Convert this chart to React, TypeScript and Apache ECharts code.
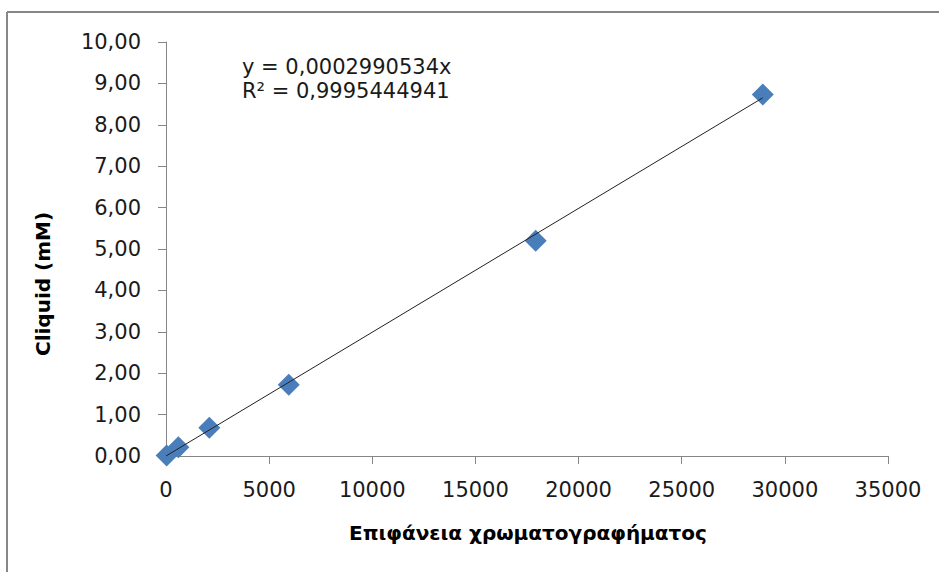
import React, { useEffect, useRef } from "react";
import * as echarts from "echarts";

const xValues = [30, 600, 2100, 5950, 17920, 28930];
const yValues = [0.01, 0.21, 0.68, 1.72, 5.2, 8.73];
const slope = 0.0002990534;
const equationText = "y = 0,0002990534x";
const r2Text = "R² = 0,9995444941";
const xTitle = "Επιφάνεια χρωματογραφήματος";
const yTitle = "Cliquid (mM)";

const FONT = "'DejaVu Sans', sans-serif";

export default function App() {
  const ref = useRef<HTMLDivElement>(null);
  useEffect(() => {
    document.body.style.margin = "0";
    if (!ref.current) return;
    const chart = echarts.init(ref.current, undefined, { renderer: "svg" });
    const points = xValues.map((x, i) => [x, yValues[i]]);
    const maxX = Math.max(...xValues);
    const trend = [
      [0, 0],
      [maxX, slope * maxX],
    ];
    chart.setOption({
      animation: false,
      backgroundColor: "#ffffff",
      grid: { left: 166, right: 51, top: 42, bottom: 116, containLabel: false },
      xAxis: {
        type: "value",
        min: 0,
        max: 35000,
        interval: 5000,
        axisLine: { show: true, lineStyle: { color: "#868686", width: 1 } },
        axisTick: { show: true, length: 8, lineStyle: { color: "#868686" } },
        splitLine: { show: false },
        axisLabel: {
          color: "#1a1a1a",
          fontSize: 21,
          fontFamily: FONT,
          margin: 23,
          formatter: (v: number) => String(v),
        },
      },
      yAxis: {
        type: "value",
        min: 0,
        max: 10,
        interval: 1,
        axisLine: { show: true, lineStyle: { color: "#868686", width: 1 } },
        axisTick: { show: true, length: 8, lineStyle: { color: "#868686" } },
        splitLine: { show: false },
        axisLabel: {
          color: "#1a1a1a",
          fontSize: 21,
          fontFamily: FONT,
          margin: 25,
          formatter: (v: number) => v.toFixed(2).replace(".", ","),
        },
      },
      series: [
        {
          type: "scatter",
          data: points,
          symbol: "diamond",
          symbolSize: 22,
          itemStyle: { color: "#4A7EBB", opacity: 1 },
          z: 2,
        },
        {
          type: "line",
          data: trend,
          symbol: "none",
          lineStyle: { color: "#222222", width: 1 },
          z: 3,
        },
      ],
      graphic: [
        {
          type: "line",
          shape: { x1: 7, y1: 12, x2: 939, y2: 12 },
          style: { stroke: "#878787", lineWidth: 2 },
        },
        {
          type: "line",
          shape: { x1: 7, y1: 12, x2: 7, y2: 572 },
          style: { stroke: "#878787", lineWidth: 2 },
        },
        {
          type: "text",
          x: 242,
          y: 67,
          style: {
            text: equationText,
            font: `21px ${FONT}`,
            fill: "#1a1a1a",
            textVerticalAlign: "middle",
          },
        },
        {
          type: "text",
          x: 242,
          y: 91,
          style: {
            text: r2Text,
            font: `21px ${FONT}`,
            fill: "#1a1a1a",
            textVerticalAlign: "middle",
          },
        },
        {
          type: "text",
          x: 528,
          y: 533,
          style: {
            text: xTitle,
            font: `bold 20px ${FONT}`,
            fill: "#000000",
            textAlign: "center",
            textVerticalAlign: "middle",
          },
        },
        {
          type: "text",
          x: 43,
          y: 284,
          rotation: Math.PI / 2,
          style: {
            text: yTitle,
            font: `bold 20px ${FONT}`,
            fill: "#000000",
            textAlign: "center",
            textVerticalAlign: "middle",
          },
        },
      ],
    });
    return () => chart.dispose();
  }, []);
  return <div ref={ref} style={{ width: 939, height: 572 }} />;
}
